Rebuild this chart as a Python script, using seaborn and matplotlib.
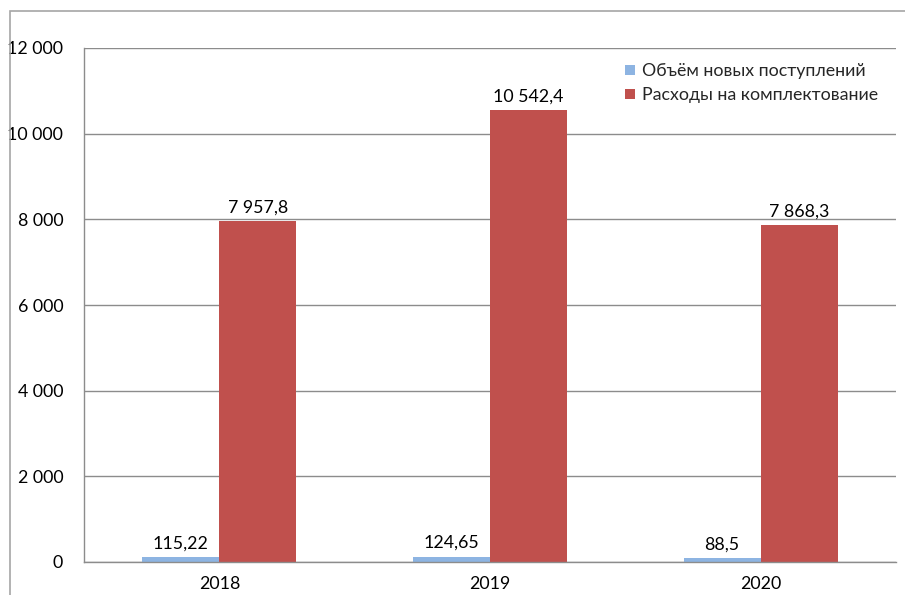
import matplotlib
matplotlib.use("Agg")
import matplotlib.pyplot as plt
import seaborn as sns
import pandas as pd
from matplotlib.ticker import FuncFormatter, MultipleLocator
from matplotlib.patches import Rectangle
from matplotlib.lines import Line2D

years = ["2018", "2019", "2020"]
series_names = ["Объём новых поступлений", "Расходы на комплектование"]
new_items = [115.22, 124.65, 88.5]
spending = [7957.8, 10542.4, 7868.3]
new_labels = ["115,22", "124,65", "88,5"]
spend_labels = ["7 957,8", "10 542,4", "7 868,3"]
colors = ["#8DB4E2", "#C0504D"]

df = pd.DataFrame({
    "year": years * 2,
    "series": [series_names[0]] * 3 + [series_names[1]] * 3,
    "value": new_items + spending,
})

sns.set_theme(style="white")
plt.rcParams["font.family"] = ["Lato", "DejaVu Sans"]

FS = 12.8
fig = plt.figure(figsize=(9.05, 5.95), dpi=100)
W, H = 905, 595
ax = fig.add_axes([84 / W, 1 - 562 / H, (896 - 84) / W, (562 - 48) / H])

sns.barplot(data=df, x="year", y="value", hue="series", palette=colors,
            width=0.57, ax=ax, legend=False, saturation=1, linewidth=0)

ax.set_ylim(0, 12000)
ax.yaxis.set_major_locator(MultipleLocator(2000))
ax.yaxis.set_major_formatter(FuncFormatter(lambda v, p: f"{int(v):,}".replace(",", " ")))
ax.grid(axis="y", color="#8C8C8C", linewidth=1)
ax.set_axisbelow(True)
for s in ["top", "right"]:
    ax.spines[s].set_visible(False)
for s in ["left", "bottom"]:
    ax.spines[s].set_color("#8C8C8C")
    ax.spines[s].set_linewidth(1)
ax.tick_params(axis="both", length=0, labelsize=FS, colors="black")
ax.tick_params(axis="y", pad=15)
ax.tick_params(axis="x", pad=10)
ax.set_xlabel("")
ax.set_ylabel("")

labels = new_labels + spend_labels
for patch, lab in zip(ax.patches, labels):
    x = patch.get_x() + patch.get_width() / 2
    y = patch.get_height()
    ax.annotate(lab, (x, y), xytext=(0, 4), textcoords="offset points",
                ha="center", va="bottom", fontsize=FS, color="black")

handles = [Line2D([0], [0], marker="s", linestyle="", markersize=7,
                  markerfacecolor=c, markeredgewidth=0) for c in colors]
ax.legend(handles, series_names, loc="upper left", frameon=False,
          bbox_to_anchor=((617 - 84) / 812, 1 - (56 - 48) / 514),
          fontsize=FS, handlelength=0.7, handletextpad=0.3,
          labelspacing=0.45, borderaxespad=0)

fig.patches.append(Rectangle((9.5 / W, -0.5), 2, 1.5 - 10.5 / H,
                             transform=fig.transFigure, fill=False,
                             edgecolor="#A6A6A6", linewidth=1.2))

fig.savefig("out.png", dpi=100)
